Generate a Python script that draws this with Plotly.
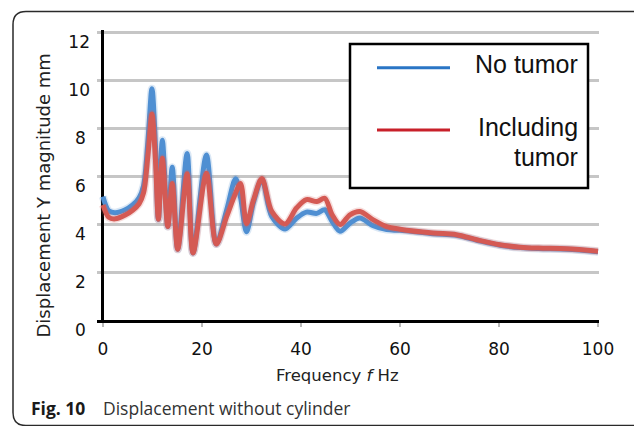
import plotly.graph_objects as go

# ---- data ----
freq = [0, 1.2, 2.5, 4.5, 6, 7.3, 8.2, 9.1, 9.9, 10.6, 11.2, 12.0, 13.1, 14.0, 15.1,
        17.0, 18.2, 20.9, 22.9, 25.0, 26.8, 27.8, 29.0, 30.4, 32.1, 34.1, 36.8,
        39.1, 41.1, 43.2, 44.8, 46.3, 47.9, 49.9, 51.9, 54.6, 57.3, 60, 66.7,
        71.4, 75.5, 80.2, 84.3, 88, 93.7, 100]
no_tumor = [5.15, 4.55, 4.48, 4.6, 4.8, 5.1, 5.6, 7.5, 9.65, 7.3, 4.2, 7.5, 3.9, 6.37, 2.95,
            6.95, 2.8, 6.88, 3.17, 4.6, 5.89, 5.1, 3.68, 4.9, 5.85, 4.32, 3.8,
            4.25, 4.5, 4.45, 4.6, 4.11, 3.7, 4.04, 4.26, 3.93, 3.77, 3.74, 3.6,
            3.53, 3.33, 3.12, 3.02, 2.98, 2.95, 2.85]
with_tumor = [4.8, 4.28, 4.22, 4.38, 4.58, 4.85, 5.3, 6.9, 8.6, 6.7, 4.2, 6.75, 3.9, 5.7, 2.95,
              6.1, 2.8, 6.12, 3.17, 4.32, 5.3, 5.7, 4.02, 5.0, 5.9, 4.53, 4.01,
              4.67, 5.02, 4.94, 5.08, 4.39, 3.98, 4.39, 4.53, 4.18, 3.9, 3.79, 3.63,
              3.56, 3.35, 3.14, 3.04, 3.0, 2.97, 2.87]
series_names = ["No tumor", "Including", "tumor"]
x_ticks = [0, 20, 40, 60, 80, 100]
y_ticks = [0, 2, 4, 6, 8, 10, 12]

W, H = 634, 426
ML, MR, MT, MB = 97, 35, 30, 106
PW, PH = W - ML - MR, H - MT - MB


def px(x):
    return (x - ML) / PW


def py(y):
    return (H - MB - y) / PH


BLUE, RED = "#4f8fd2", "#d45a54"
fig = go.Figure()
for vals, col in [(no_tumor, BLUE), (with_tumor, RED)]:
    fig.add_trace(go.Scatter(x=freq, y=vals, mode="lines", showlegend=False, hoverinfo="skip",
                             line=dict(color=col, width=8, shape="spline", smoothing=0.9),
                             opacity=0.2))
    fig.add_trace(go.Scatter(x=freq, y=vals, mode="lines", showlegend=False,
                             line=dict(color=col, width=5, shape="spline", smoothing=0.9)))

tick_font = dict(family="DejaVu Sans", size=17, color="#111")
fig.update_layout(
    width=W, height=H, margin=dict(l=ML, r=MR, t=MT, b=MB),
    paper_bgcolor="white", plot_bgcolor="white", showlegend=False,
    xaxis=dict(range=[-1.2, 100.2], tickvals=x_ticks, showgrid=False,
               showline=True, linecolor="black", linewidth=3,
               zeroline=True, zerolinecolor="black", zerolinewidth=3,
               ticks="outside", ticklen=4, tickwidth=2, tickcolor="#b8b8b8",
               tickfont=tick_font, ticklabelstandoff=8),
    yaxis=dict(range=[0, 12.1], tickvals=y_ticks,
               ticktext=[(str(v) if v >= 10 else str(v) + "\u2005") for v in y_ticks],
               showgrid=True, gridcolor="#c6c6c6", gridwidth=2.5,
               zeroline=False, showline=False, ticks="",
               tickfont=tick_font, ticklabelshift=10, ticklabelstandoff=6),
)

shapes = []
# rounded frame around the figure
l, t, r, b, rad = 13, 11.5, 660, 425.5, 13
path = (f"M {px(l)},{py(b - rad)} L {px(l)},{py(t + rad)} "
        f"Q {px(l)},{py(t)} {px(l + rad)},{py(t)} L {px(r)},{py(t)} "
        f"M {px(l)},{py(b - rad)} Q {px(l)},{py(b)} {px(l + rad)},{py(b)} L {px(r)},{py(b)}")
shapes.append(dict(type="path", path=path, xref="paper", yref="paper",
                   line=dict(color="#2a2a2a", width=1.5), layer="above"))
# legend box
shapes.append(dict(type="rect", xref="paper", yref="paper", x0=px(350), x1=px(588),
                   y0=py(188), y1=py(44), line=dict(color="black", width=2.5),
                   fillcolor="white", layer="above"))
shapes.append(dict(type="line", xref="paper", yref="paper", x0=px(377), x1=px(450),
                   y0=py(67.7), y1=py(67.7), line=dict(color="#2a75c5", width=3), layer="above"))
shapes.append(dict(type="line", xref="paper", yref="paper", x0=px(377), x1=px(450),
                   y0=py(130), y1=py(130), line=dict(color="#c8202a", width=3), layer="above"))
fig.update_layout(shapes=shapes)

leg_font = dict(family="Liberation Sans", size=25, color="#111")
ann = []
for name, yy in zip(series_names, [63.8, 127.3, 157.3]):
    ann.append(dict(text=name, x=px(580), y=py(yy), xref="paper", yref="paper",
                    xanchor="right", yanchor="middle", showarrow=False, font=leg_font))
ann.append(dict(text="Frequency <i>f</i> Hz", x=px(337.5), y=py(375), xref="paper", yref="paper",
                xanchor="center", yanchor="middle", showarrow=False,
                font=dict(family="DejaVu Sans", size=16.5, color="#222")))
ann.append(dict(text="Displacement Y magnitude mm", x=px(43), y=py(195.5), xref="paper",
                yref="paper", xanchor="center", yanchor="middle", showarrow=False, textangle=-90,
                font=dict(family="DejaVu Sans", size=18, color="#222")))
ann.append(dict(text="<b>Fig. 10</b>", x=px(29), y=py(407.5), xref="paper", yref="paper",
                xanchor="left", yanchor="middle", showarrow=False,
                font=dict(family="Open Sans", size=17.5, color="#1a1a1a")))
ann.append(dict(text="Displacement without cylinder", x=px(101), y=py(407.5), xref="paper",
                yref="paper", xanchor="left", yanchor="middle", showarrow=False,
                font=dict(family="Open Sans", size=17.5, color="#333")))
fig.update_layout(annotations=ann)

fig.write_html("out.html", config={"displayModeBar": False},
               post_script="document.body.style.margin='0';document.body.style.padding='0';")
